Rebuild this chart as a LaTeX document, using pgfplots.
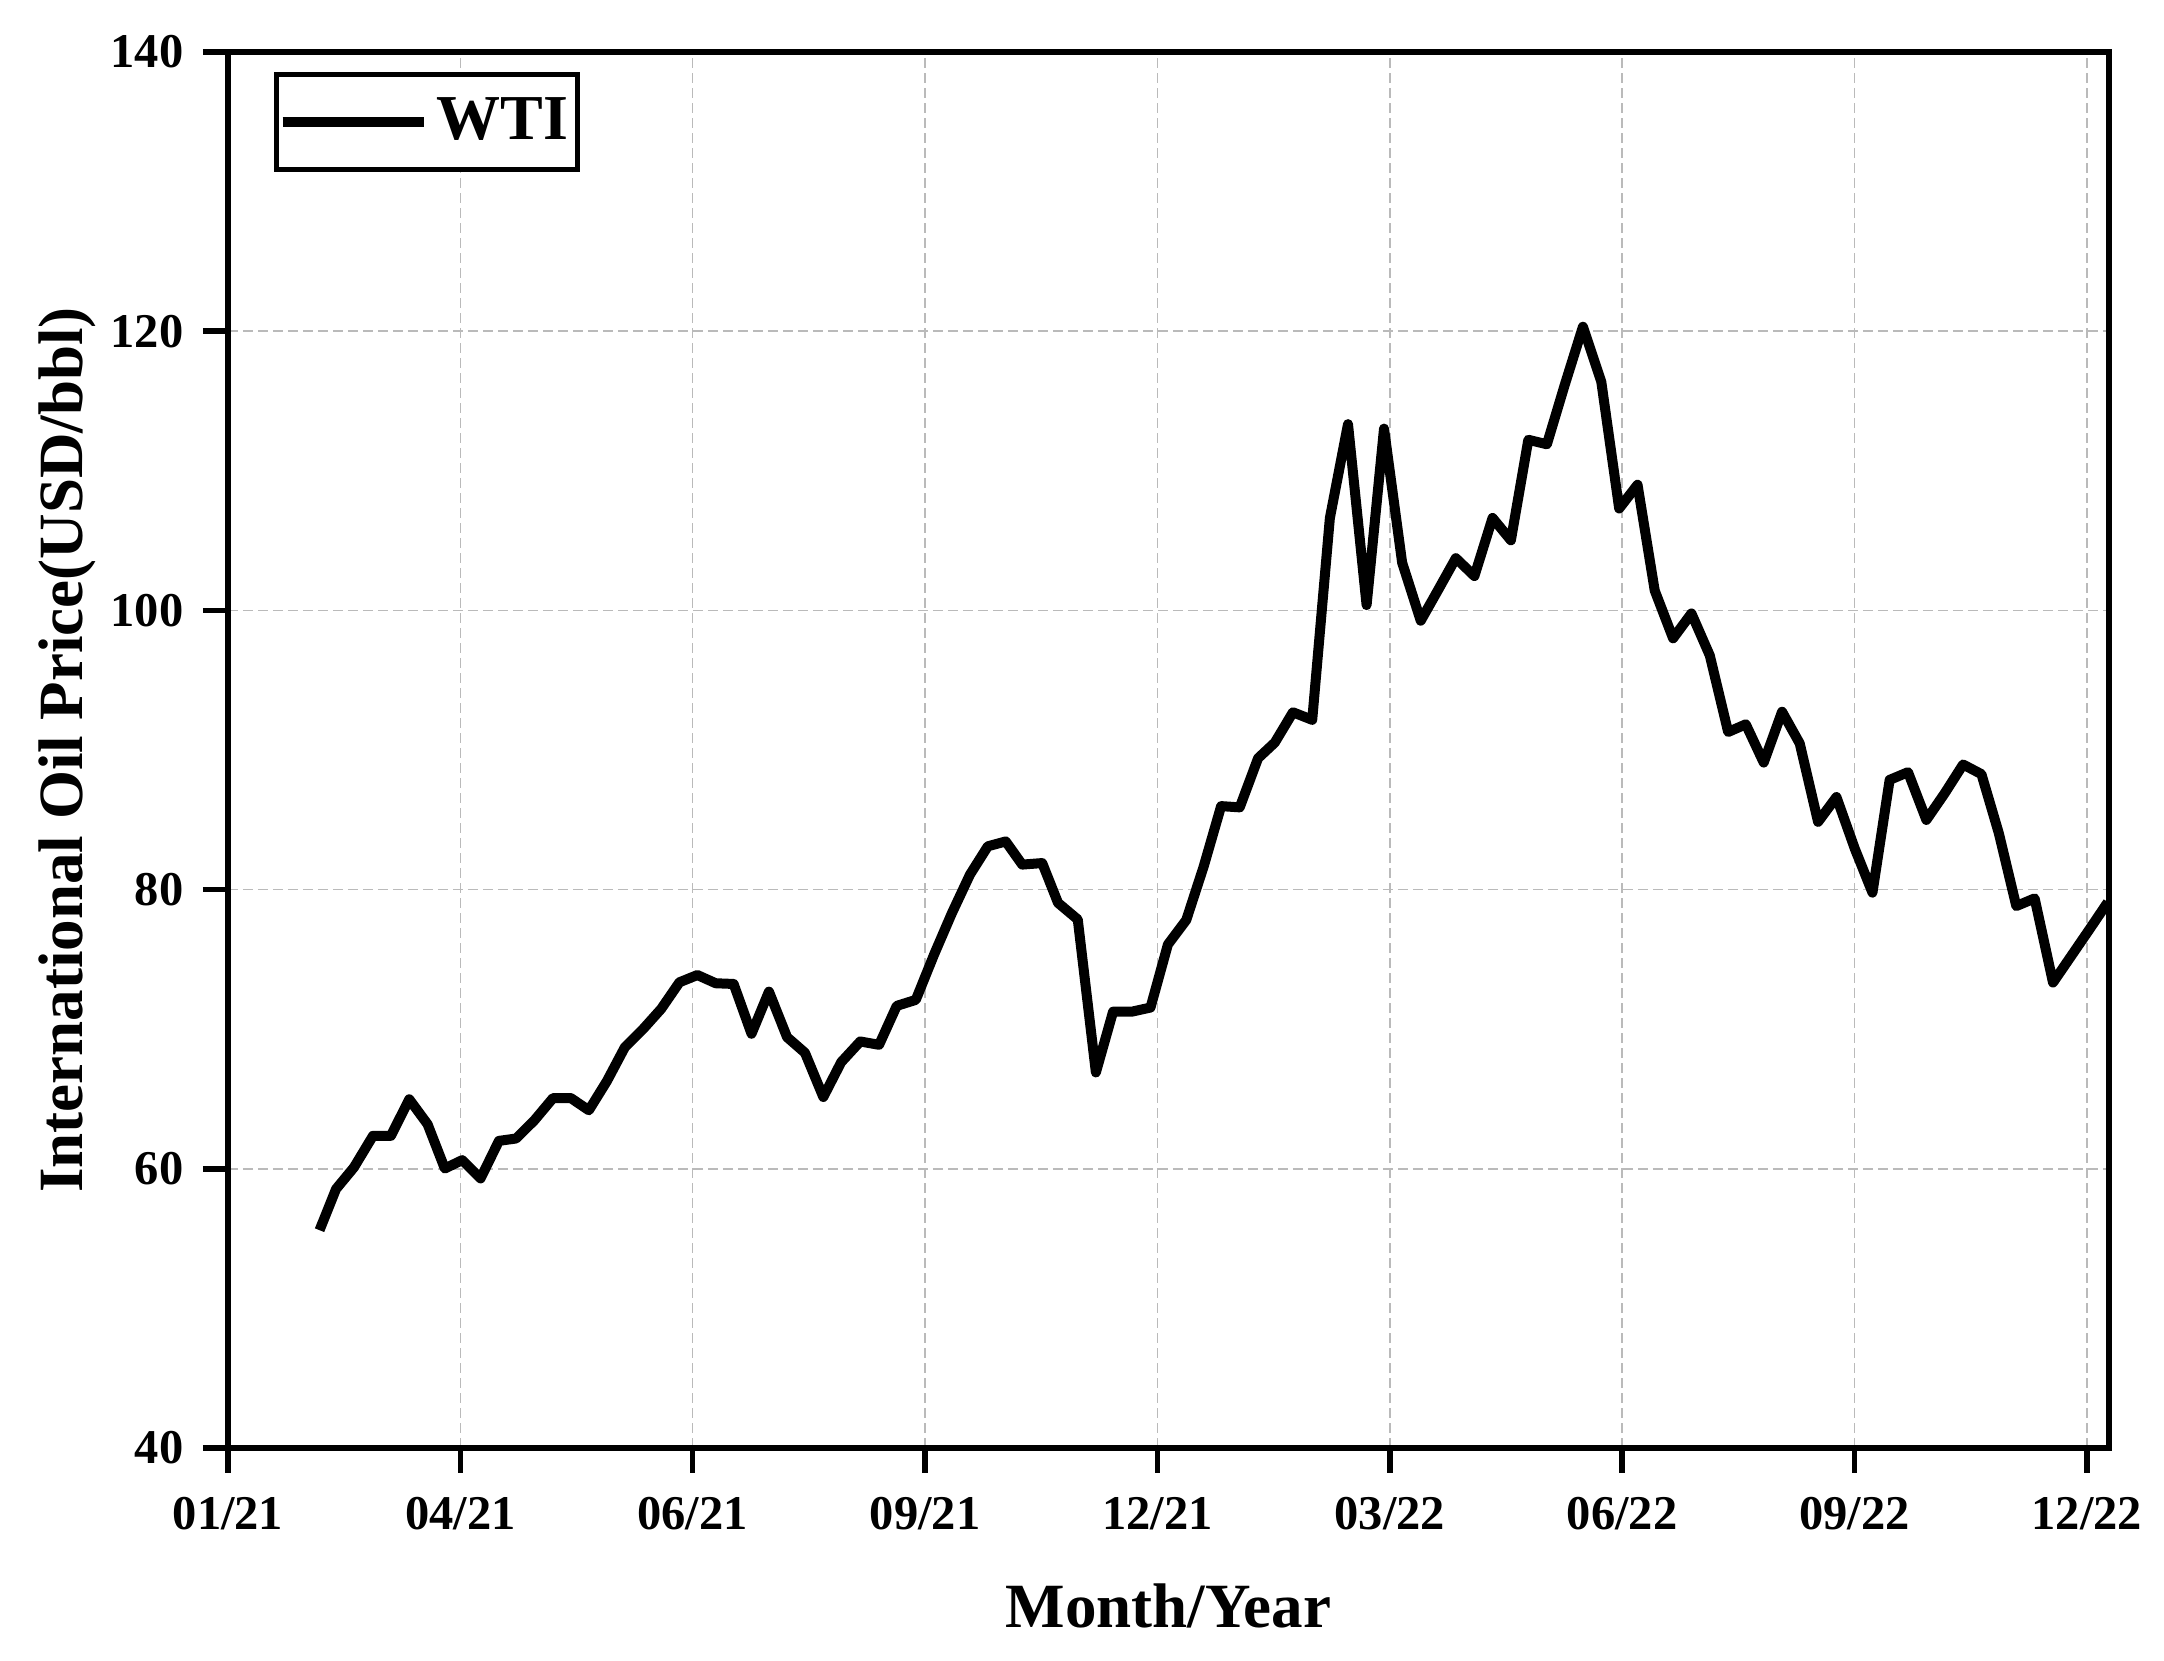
\documentclass[border=0pt]{standalone}
\usepackage{fontspec}
\setmainfont{Liberation Serif}
\usepackage{pgfplots}
\pgfplotsset{compat=1.18}
\pgfplotstableread{
x y
0.394 55.6
0.465 58.55
0.542 60.1
0.624 62.36
0.701 62.36
0.780 64.98
0.859 63.19
0.933 60.02
1.008 60.62
1.087 59.31
1.166 62.0
1.240 62.17
1.319 63.48
1.399 65.07
1.475 65.07
1.553 64.19
1.631 66.29
1.708 68.71
1.787 70.02
1.864 71.45
1.943 73.36
2.020 73.88
2.099 73.29
2.176 73.24
2.253 69.67
2.328 72.69
2.406 69.43
2.483 68.31
2.562 65.14
2.639 67.64
2.721 69.12
2.802 68.88
2.878 71.67
2.960 72.1
3.039 75.36
3.115 78.3
3.193 81.07
3.270 83.1
3.347 83.45
3.418 81.79
3.504 81.9
3.572 79.05
3.657 77.86
3.735 66.9
3.809 71.26
3.891 71.26
3.970 71.55
4.045 76.07
4.124 77.82
4.199 81.66
4.274 85.98
4.354 85.89
4.433 89.41
4.505 90.53
4.583 92.7
4.666 92.16
4.742 106.62
4.820 113.34
4.900 100.38
4.975 113.02
5.053 103.42
5.133 99.26
5.209 101.5
5.284 103.74
5.364 102.46
5.442 106.62
5.521 105.02
5.596 112.22
5.676 111.9
5.751 116.06
5.831 120.32
5.910 116.38
5.987 107.3
6.066 109.0
6.140 101.42
6.219 98.0
6.298 99.78
6.377 96.77
6.456 91.29
6.532 91.84
6.609 89.1
6.688 92.74
6.764 90.47
6.843 84.85
6.922 86.63
7.001 82.93
7.077 79.78
7.151 87.86
7.230 88.41
7.309 84.99
7.388 86.9
7.467 88.96
7.546 88.27
7.621 84.03
7.696 78.82
7.775 79.37
7.854 73.34
7.933 75.26
8.012 77.18
8.09 79.1
}\wti
\begin{document}
\begin{tikzpicture}
\begin{axis}[
  scale only axis,
  width=376.2pt, height=279.2pt,
  xmin=0, xmax=8.095,
  ymin=40, ymax=140,
  xtick={0,1,2,3,4,5,6,7,8},
  xticklabels={01/21,04/21,06/21,09/21,12/21,03/22,06/22,09/22,12/22},
  ytick={40,60,80,100,120,140},
  yticklabels={40,60,80,100,120,140},
  xtick pos=bottom, ytick pos=left,
  tick align=outside,
  major tick length=5pt,
  every tick/.style={black, line width=1.1pt},
  axis line style={line width=1.2pt},
  ticklabel style={font=\bfseries\fontsize{9.7}{11}\selectfont},
  xticklabel style={yshift=-1.3pt},
  yticklabel style={xshift=-0.4pt},
  grid=major,
  major grid style={color=black!27, line width=0.3pt, dash pattern=on 2pt off 1pt},
  xlabel={Month/Year},
  ylabel={International Oil Price(USD/bbl)},
  label style={font=\bfseries\fontsize{12.6}{14}\selectfont},
  xlabel style={at={(axis description cs:0.5,-0.1285)}, anchor=base},
  ylabel style={at={(axis description cs:-0.0772,0.5)}, anchor=base},
  legend style={at={(axis description cs:0.0245,0.9855)}, anchor=north west,
    draw=black, line width=1pt, font=\bfseries\fontsize{12.8}{14}\selectfont,
    inner xsep=0.2pt, inner ysep=1pt,
    nodes={inner xsep=1.55pt, inner ysep=3.5pt}},
  legend image code/.code={\draw[line width=2pt] (0pt,0pt) -- (28.3pt,0pt);},
]
\addplot[black, line width=2pt, line join=round] table[x=x,y=y] {\wti};
\addlegendentry{WTI}
\coordinate (sw) at (rel axis cs:0,0);
\coordinate (ne) at (rel axis cs:1,1);
\end{axis}
\pgfresetboundingbox
\path (sw) ++(-45.6pt,-42.6pt) rectangle ([shift={(11pt,10.4pt)}]ne);
\end{tikzpicture}
\end{document}
